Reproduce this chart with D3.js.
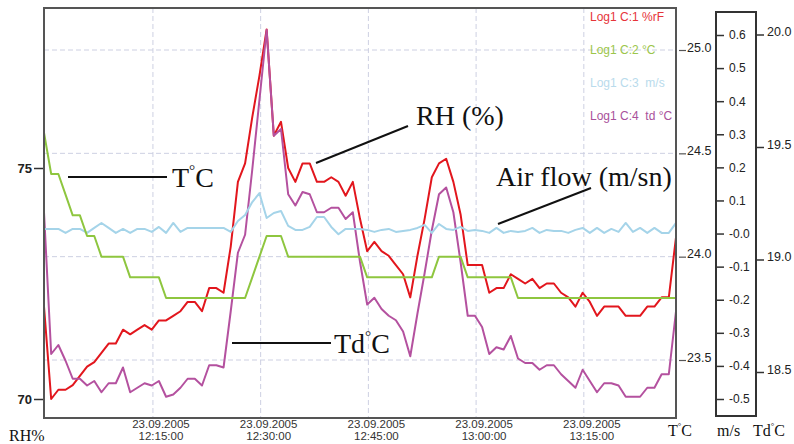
<!DOCTYPE html>
<html>
<head>
<meta charset="utf-8">
<script src="https://cdn.jsdelivr.net/npm/d3@7"></script>
<style>
  body { margin: 0; background: #fff; }
  svg { display: block; }
</style>
</head>
<body>
<script>
// logger samples, one per minute
const START = "2005-09-23T11:59:50";
const DATE_LABEL = "23.09.2005";
const xTicks = ["12:15:00", "12:30:00", "12:45:00", "13:00:00", "13:15:00"];

const rhTicks = [70, 75];
const tTicks = [23.5, 24.0, 24.5, 25.0];
const msTicks = [0.6, 0.5, 0.4, 0.3, 0.2, 0.1, 0.0, -0.1, -0.2, -0.3, -0.4, -0.5];
const tdTicks = [18.5, 19.0, 19.5, 20.0];

const legendLabels = ["Log1 C:1 %rF", "Log1 C:2 °C", "Log1 C:3  m/s", "Log1 C:4  td °C"];

// C:1 relative humidity %
const rh = [72.0, 70.0, 70.2, 70.2, 70.3, 70.5, 70.7, 70.8, 71.0, 71.2,
  71.2, 71.5, 71.4, 71.5, 71.6, 71.5, 71.7, 71.7, 71.8, 71.9,
  72.1, 72.1, 71.9, 72.4, 72.4, 72.3, 73.3, 74.7, 75.1, 76.1,
  77.0, 78.0, 75.7, 76.0, 75.0, 74.7, 75.1, 75.1, 74.7, 74.7,
  74.8, 74.7, 74.4, 74.7, 73.9, 73.2, 73.4, 73.2, 73.1, 72.9,
  72.7, 72.2, 73.1, 73.9, 74.8, 75.1, 75.2, 74.7, 74.0, 72.9,
  72.9, 72.9, 72.3, 72.4, 72.4, 72.7, 72.6, 72.5, 72.6, 72.4,
  72.5, 72.5, 72.3, 72.2, 72.0, 72.3, 72.1, 71.8, 72.0, 72.0,
  72.0, 71.8, 71.8, 71.8, 72.0, 72.0, 72.2, 72.2, 73.5];

// C:2 temperature °C
const temp = [24.6, 24.4, 24.4, 24.3, 24.2, 24.2, 24.1, 24.1, 24.0, 24.0,
  24.0, 24.0, 23.9, 23.9, 23.9, 23.9, 23.9, 23.8, 23.8, 23.8,
  23.8, 23.8, 23.8, 23.8, 23.8, 23.8, 23.8, 23.8, 23.8, 23.9,
  24.0, 24.1, 24.1, 24.1, 24.0, 24.0, 24.0, 24.0, 24.0, 24.0,
  24.0, 24.0, 24.0, 24.0, 24.0, 23.9, 23.9, 23.9, 23.9, 23.9,
  23.9, 23.9, 23.9, 23.9, 23.9, 24.0, 24.0, 24.0, 24.0, 23.9,
  23.9, 23.9, 23.9, 23.9, 23.9, 23.9, 23.8, 23.8, 23.8, 23.8,
  23.8, 23.8, 23.8, 23.8, 23.8, 23.8, 23.8, 23.8, 23.8, 23.8,
  23.8, 23.8, 23.8, 23.8, 23.8, 23.8, 23.8, 23.8, 23.8];

// C:3 air flow m/s
const air = [0.014, 0.014, 0.014, 0.002, 0.014, 0.014, 0.002, 0.017, 0.032, 0.017,
  0.002, 0.014, 0.002, 0.014, 0.014, 0.005, 0.020, 0.002, 0.032, 0.005,
  0.017, 0.017, 0.017, 0.017, 0.017, 0.017, 0.005, 0.038, 0.056, 0.095,
  0.122, 0.047, 0.062, 0.068, 0.023, 0.011, 0.011, 0.020, 0.050, 0.050,
  0.020, -0.002, 0.014, 0.014, 0.014, 0.011, 0.005, 0.011, 0.014, 0.005,
  0.008, 0.011, 0.017, 0.026, 0.002, 0.029, 0.014, 0.011, 0.020, 0.008,
  0.011, 0.008, 0.002, 0.017, 0.002, 0.008, 0.005, 0.008, 0.017, 0.002,
  0.011, 0.008, 0.008, 0.002, 0.011, 0.017, 0.002, 0.017, 0.002, 0.014,
  0.005, 0.032, 0.005, 0.017, 0.002, 0.017, 0.002, 0.002, 0.032];

// C:4 dew point °C
const td = [19.21, 18.58, 18.62, 18.55, 18.47, 18.47, 18.44, 18.46, 18.41, 18.45,
  18.45, 18.52, 18.41, 18.43, 18.45, 18.44, 18.46, 18.39, 18.40, 18.43,
  18.47, 18.47, 18.44, 18.53, 18.53, 18.52, 18.77, 19.03, 19.11, 19.40,
  19.71, 20.02, 19.55, 19.58, 19.29, 19.24, 19.30, 19.29, 19.21, 19.21,
  19.23, 19.23, 19.18, 19.21, 18.99, 18.80, 18.83, 18.78, 18.75, 18.73,
  18.68, 18.57, 18.76, 18.94, 19.13, 19.29, 19.32, 19.21, 18.99, 18.75,
  18.75, 18.70, 18.58, 18.61, 18.60, 18.66, 18.56, 18.54, 18.54, 18.51,
  18.53, 18.53, 18.49, 18.46, 18.43, 18.51, 18.46, 18.41, 18.45, 18.45,
  18.44, 18.39, 18.39, 18.39, 18.43, 18.43, 18.49, 18.49, 18.77];

const WIDTH = 794, HEIGHT = 444;
const PL = 44, PR = 676, PT = 8, PB = 418;
const SANS = "'Liberation Sans', Arial, sans-serif";
const SERIF = "'Liberation Serif', 'Times New Roman', serif";
const RED = "#e2161d", GREEN = "#8ec63f", BLUE = "#a5d4e9", PURPLE = "#b4519f";

const t0 = new Date(START);
const times = rh.map((d, i) => new Date(t0.getTime() + i * 60000));
const parseTick = s => new Date("2005-09-23T" + s);

const svg = d3.select("body").append("svg")
  .attr("width", WIDTH).attr("height", HEIGHT);

const x = d3.scaleTime().domain([times[0], times[times.length - 1]]).range([PL, PR]);
const yRH = d3.scaleLinear().domain([70, 75]).range([399, 168]);
const yT = d3.scaleLinear().domain([23.5, 25]).range([360, 50]);
const yMS = d3.scaleLinear().domain([-0.5, 0.6]).range([399, 35]);
const yTD = d3.scaleLinear().domain([18.5, 20]).range([372, 34.5]);

// grid
svg.append("g").selectAll("line").data(tTicks).enter().append("line")
  .attr("x1", PL).attr("x2", PR)
  .attr("y1", d => yT(d)).attr("y2", d => yT(d))
  .attr("stroke", "#cdd0e2").attr("stroke-width", 1).attr("stroke-dasharray", "5,3");
svg.append("g").selectAll("line").data(xTicks).enter().append("line")
  .attr("x1", d => x(parseTick(d))).attr("x2", d => x(parseTick(d)))
  .attr("y1", PT).attr("y2", PB)
  .attr("stroke", "#cdd0e2").attr("stroke-width", 1).attr("stroke-dasharray", "5,3");

// series
svg.append("clipPath").attr("id", "plot")
  .append("rect").attr("x", PL).attr("y", PT).attr("width", PR - PL).attr("height", PB - PT);

const lines = svg.append("g").attr("clip-path", "url(#plot)");
const drawLine = (vals, yScale, color) => {
  lines.append("path")
    .datum(vals)
    .attr("fill", "none")
    .attr("stroke", color)
    .attr("stroke-width", 2)
    .attr("stroke-linejoin", "round")
    .attr("d", d3.line().x((d, i) => x(times[i])).y(d => yScale(d)));
};
drawLine(rh, yRH, RED);
drawLine(td, yTD, PURPLE);
drawLine(air, yMS, BLUE);
drawLine(temp, yT, GREEN);

// frame
svg.append("rect")
  .attr("x", PL).attr("y", PT).attr("width", PR - PL).attr("height", PB - PT)
  .attr("fill", "none").attr("stroke", "#555").attr("stroke-width", 2);

// left RH axis
const gRH = svg.append("g").attr("transform", "translate(" + (PL - 1) + ",0)")
  .call(d3.axisLeft(yRH).tickValues(rhTicks).tickSize(9).tickPadding(2).tickFormat(d3.format("d")));
gRH.select(".domain").remove();
gRH.selectAll("line").attr("stroke", "#333").attr("stroke-width", 1.5);
gRH.selectAll("text").attr("font-family", SANS).attr("font-size", 13)
  .attr("font-weight", "bold").attr("fill", "#222");

// T axis (right of the plot)
const gT = svg.append("g").attr("transform", "translate(679,0)")
  .call(d3.axisRight(yT).tickValues(tTicks).tickSize(7).tickPadding(1).tickFormat(d => d.toFixed(1)));
gT.select(".domain").remove();
gT.selectAll("line").attr("stroke", "#555").attr("stroke-width", 1.2);
gT.selectAll("text").attr("font-family", SANS).attr("font-size", 12.5)
  .attr("fill", "#222").attr("dy", "0.1em");

// m/s box axis
svg.append("rect")
  .attr("x", 716).attr("y", 12).attr("width", 40).attr("height", 404)
  .attr("fill", "none").attr("stroke", "#333").attr("stroke-width", 2);
const gMS = svg.append("g").attr("transform", "translate(717,0)")
  .call(d3.axisRight(yMS).tickValues(msTicks).tickSize(7).tickPadding(5)
    .tickFormat(d => (d === 0 ? "-0.0" : d.toFixed(1))));
gMS.select(".domain").remove();
gMS.selectAll("line").attr("stroke", "#333").attr("stroke-width", 1.5);
gMS.selectAll("text").attr("font-family", SANS).attr("font-size", 12).attr("fill", "#222");

// Td axis
const gTD = svg.append("g").attr("transform", "translate(756,0)")
  .call(d3.axisRight(yTD).tickValues(tdTicks).tickSize(8).tickPadding(3).tickFormat(d => d.toFixed(1)));
gTD.select(".domain").remove();
gTD.selectAll("line").attr("stroke", "#333").attr("stroke-width", 1.5);
gTD.selectAll("text").attr("font-family", SANS).attr("font-size", 12.5)
  .attr("fill", "#222").attr("dy", "0.1em");

// time labels
const xl = svg.append("g").attr("font-family", SANS).attr("font-size", 11.5)
  .attr("fill", "#333").attr("text-anchor", "middle");
xTicks.forEach(t => {
  const px = x(parseTick(t)) + 8;
  xl.append("text").attr("x", px).attr("y", 428).text(DATE_LABEL);
  xl.append("text").attr("x", px).attr("y", 440).text(t);
});

// legend
const legendColors = ["#e63439", "#9cc64b", "#b9dbec", "#a9519b"];
svg.append("g").attr("font-family", SANS).attr("font-size", 12)
  .selectAll("text").data(legendLabels).enter().append("text")
  .attr("x", 590).attr("y", (d, i) => 21 + i * 33)
  .attr("fill", (d, i) => legendColors[i])
  .attr("xml:space", "preserve")
  .text(d => d);

// serif labels with a small raised degree sign
const degText = (g, px, py, size, pre, post) => {
  const t = g.append("text").attr("x", px).attr("y", py)
    .attr("font-family", SERIF).attr("font-size", size).attr("fill", "#111");
  t.append("tspan").text(pre);
  t.append("tspan").attr("font-size", size * 0.55).attr("dy", -size * 0.42).text("°");
  t.append("tspan").attr("dy", size * 0.42).text(post);
};

const ann = svg.append("g");
degText(ann, 172, 187, 28, "T", "C");
degText(ann, 334, 353, 28, "Td", "C");
ann.append("text").attr("x", 416).attr("y", 125)
  .attr("font-family", SERIF).attr("font-size", 28).attr("fill", "#111").text("RH (%)");
ann.append("text").attr("x", 496).attr("y", 186)
  .attr("font-family", SERIF).attr("font-size", 28).attr("fill", "#111").text("Air flow (m/sn)");

const pointers = [
  [68, 177, 167, 177],
  [232, 343, 331, 343],
  [316, 163, 408, 126],
  [498, 224, 591, 188]
];
ann.selectAll("line").data(pointers).enter().append("line")
  .attr("x1", d => d[0]).attr("y1", d => d[1])
  .attr("x2", d => d[2]).attr("y2", d => d[3])
  .attr("stroke", "#111").attr("stroke-width", 2);

// axis titles at the bottom
svg.append("text").attr("x", 9).attr("y", 441)
  .attr("font-family", SERIF).attr("font-size", 16).attr("fill", "#111").text("RH%");
degText(svg, 668, 436, 16, "T", "C");
svg.append("text").attr("x", 717).attr("y", 436)
  .attr("font-family", SERIF).attr("font-size", 16).attr("fill", "#111").text("m/s");
degText(svg, 753, 436, 16, "Td", "C");
</script>
</body>
</html>
